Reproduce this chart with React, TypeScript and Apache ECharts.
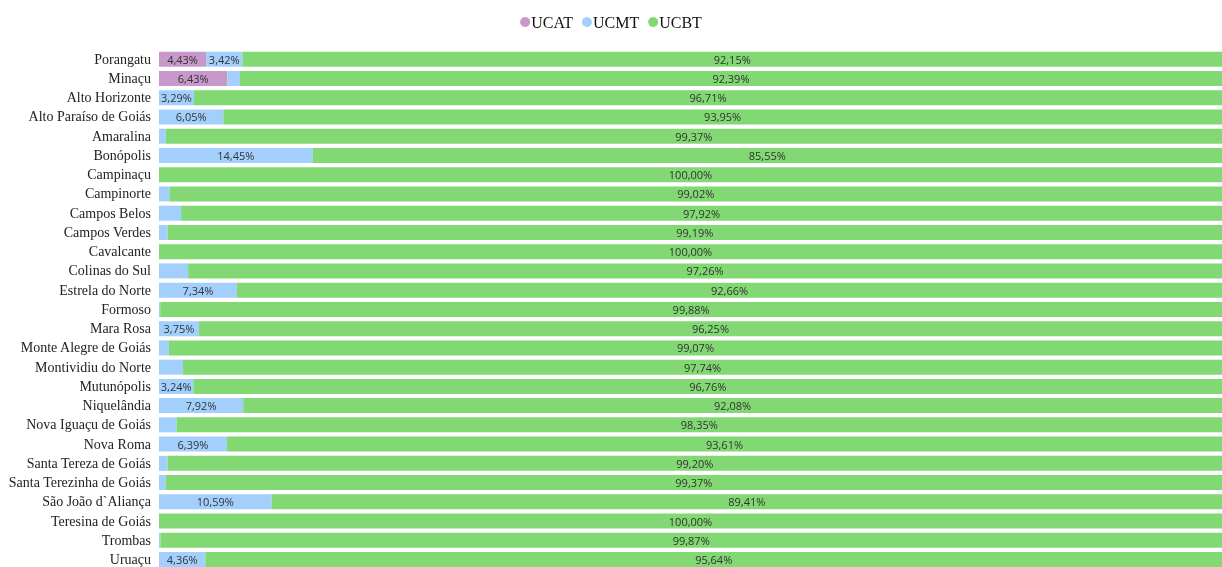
import React, { useEffect, useRef } from "react";
import * as echarts from "echarts";

const categories = [
  "Porangatu", "Minaçu", "Alto Horizonte", "Alto Paraíso de Goiás", "Amaralina", "Bonópolis",
  "Campinaçu", "Campinorte", "Campos Belos", "Campos Verdes", "Cavalcante", "Colinas do Sul",
  "Estrela do Norte", "Formoso", "Mara Rosa", "Monte Alegre de Goiás", "Montividiu do Norte",
  "Mutunópolis", "Niquelândia", "Nova Iguaçu de Goiás", "Nova Roma", "Santa Tereza de Goiás",
  "Santa Terezinha de Goiás", "São João d`Aliança", "Teresina de Goiás", "Trombas", "Uruaçu",
];

const ucat = [4.43, 6.43, 0, 0, 0, 0, 0, 0, 0, 0, 0, 0, 0, 0, 0, 0, 0, 0, 0, 0, 0, 0, 0, 0, 0, 0, 0];
const ucmt = [3.42, 1.18, 3.29, 6.05, 0.63, 14.45, 0, 0.98, 2.08, 0.81, 0, 2.74, 7.34, 0.12, 3.75, 0.93, 2.26, 3.24, 7.92, 1.65, 6.39, 0.8, 0.63, 10.59, 0, 0.13, 4.36];
const ucbt = [92.15, 92.39, 96.71, 93.95, 99.37, 85.55, 100, 99.02, 97.92, 99.19, 100, 97.26, 92.66, 99.88, 96.25, 99.07, 97.74, 96.76, 92.08, 98.35, 93.61, 99.2, 99.37, 89.41, 100, 99.87, 95.64];

const seriesNames = ["UCAT", "UCMT", "UCBT"];
const colors = ["#c798c9", "#a3cffd", "#82d873"];

export default function App() {
  const ref = useRef<HTMLDivElement>(null);
  useEffect(() => {
    if (!ref.current) return;
    const chart = echarts.init(ref.current, null, { renderer: "svg" });
    const fmt = (p: any) => {
      const v = Number(p.value);
      if (!v || v < 3) return "";
      return v.toFixed(2).replace(".", ",") + "%";
    };
    const mk = (name: string, data: number[], color: string) => ({
      name,
      type: "bar",
      stack: "total",
      barWidth: 15,
      data,
      itemStyle: { color },
      label: {
        show: true,
        position: "inside",
        formatter: fmt,
        color: "#333",
        fontSize: 11,
        fontFamily: "'Open Sans', sans-serif",
      },
    });
    chart.setOption({
      animation: false,
      color: colors,
      legend: {
        data: seriesNames,
        top: 9,
        left: "center",
        icon: "circle",
        itemWidth: 10,
        itemHeight: 10,
        itemGap: 9,
        textStyle: {
          fontFamily: "'Liberation Serif', serif",
          fontSize: 16,
          color: "#111",
          padding: [0, 0, 0, -4],
        },
      },
      grid: { left: 159, right: 0, top: 49.6, height: 519.6, containLabel: false },
      xAxis: {
        type: "value",
        min: 0,
        max: 100,
        show: false,
      },
      yAxis: {
        type: "category",
        data: categories,
        inverse: true,
        axisLine: { show: false },
        axisTick: { show: false },
        axisLabel: {
          margin: 8,
          fontFamily: "'Liberation Serif', serif",
          fontSize: 14,
          color: "#222",
        },
      },
      series: [mk("UCAT", ucat, colors[0]), mk("UCMT", ucmt, colors[1]), mk("UCBT", ucbt, colors[2])],
    });
    return () => chart.dispose();
  }, []);
  return <div ref={ref} style={{ position: "fixed", left: 0, top: 0, width: 1222, height: 580 }} />;
}
